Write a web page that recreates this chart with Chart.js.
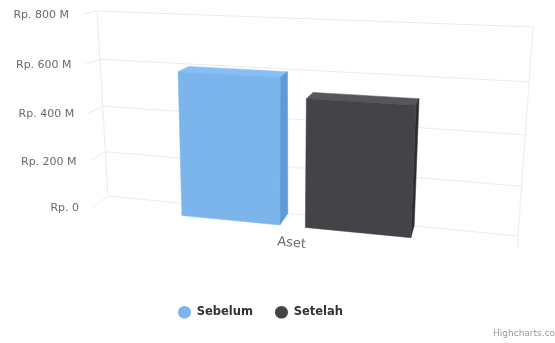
<!DOCTYPE html>
<html>
<head>
<meta charset="utf-8">
<title>Aset</title>
<script src="https://cdn.jsdelivr.net/npm/chart.js@4"></script>
<style>
    body { margin: 0; background: #fff; }
    #wrap { width: 555px; height: 343px; }
</style>
</head>
<body>
<div id="wrap"><canvas id="asetChart"></canvas></div>
<script>
const categories = ['Aset'];
const seriesNames = ['Sebelum', 'Setelah'];
const sebelumValues = [590];
const setelahValues = [513];
const tickValues = [0, 200, 400, 600, 800];
const seriesColors = ['#7cb5ec', '#434348'];
const topColors = ['#86bff5', '#56565b'];
const sideColors = ['#5f9ad6', '#2d2d31'];

// Wall corners on the canvas, clockwise from top-left
const backWall = [[97, 11], [533, 27], [518, 236], [108, 196]];
const frontWall = [[83, 14], [533, 31], [518, 248], [93, 207]];
const barDepth = { back: 0, front: 1 };

// Unit square -> quad perspective transform
function makeProjection(q) {
    const [[x0, y0], [x1, y1], [x2, y2], [x3, y3]] = q;
    const dx1 = x1 - x2, dx2 = x3 - x2, dx3 = x0 - x1 + x2 - x3;
    const dy1 = y1 - y2, dy2 = y3 - y2, dy3 = y0 - y1 + y2 - y3;
    const den = dx1 * dy2 - dx2 * dy1;
    const g = (dx3 * dy2 - dx2 * dy3) / den;
    const h = (dx1 * dy3 - dx3 * dy1) / den;
    const a = x1 - x0 + g * x1, b = x3 - x0 + h * x3;
    const d = y1 - y0 + g * y1, e = y3 - y0 + h * y3;
    return (u, v) => {
        const w = g * u + h * v + 1;
        return [(a * u + b * v + x0) / w, (d * u + e * v + y0) / w];
    };
}

const projectBack = makeProjection(backWall);
const projectFront = makeProjection(frontWall);

function project(u, v, depth) {
    const p = projectBack(u, v);
    const q = projectFront(u, v);
    return [p[0] + (q[0] - p[0]) * depth, p[1] + (q[1] - p[1]) * depth];
}

function line(ctx, a, b) {
    ctx.beginPath();
    ctx.moveTo(a[0], a[1]);
    ctx.lineTo(b[0], b[1]);
    ctx.stroke();
}

function fillFace(ctx, points, color) {
    ctx.fillStyle = color;
    ctx.strokeStyle = color;
    ctx.lineWidth = 0.5;
    ctx.beginPath();
    points.forEach((p, i) => (i ? ctx.lineTo(p[0], p[1]) : ctx.moveTo(p[0], p[1])));
    ctx.closePath();
    ctx.fill();
    ctx.stroke();
}

// Draws the walls, axis text and boxes instead of the flat bars
const box3d = {
    id: 'box3d',
    beforeDatasetsDraw(chart) {
        const { ctx, chartArea: area, scales } = chart;
        const toU = x => (x - area.left) / (area.right - area.left);
        const toV = y => (y - area.top) / (area.bottom - area.top);

        ctx.save();
        ctx.strokeStyle = '#ebebeb';
        ctx.lineWidth = 1;
        line(ctx, project(0, 0, 0), project(0, 1, 0));
        line(ctx, project(1, 0, 0), project(1, 1, 0));
        line(ctx, project(1, 1, 0), project(1, 1, 1));

        ctx.font = '11px "DejaVu Sans"';
        ctx.fillStyle = '#6a6a6a';
        ctx.textAlign = 'right';
        ctx.textBaseline = 'middle';
        scales.y.ticks.forEach(tick => {
            const v = toV(scales.y.getPixelForValue(tick.value));
            const end = project(0, v, 1);
            line(ctx, end, project(0, v, 0));
            line(ctx, project(0, v, 0), project(1, v, 0));
            ctx.fillText(tick.label, end[0] - 14, end[1] + 1);
        });

        // Category label follows the slope of the floor edge
        const labelAt = project(toU(scales.x.getPixelForValue(0)), 1, 1);
        const floorL = project(0, 1, 1);
        const floorR = project(1, 1, 1);
        ctx.save();
        ctx.translate(labelAt[0] - 1, labelAt[1] + 17);
        ctx.rotate(Math.atan2(floorR[1] - floorL[1], floorR[0] - floorL[0]));
        ctx.font = '13px "DejaVu Sans"';
        ctx.textAlign = 'center';
        ctx.fillStyle = '#6a6a6a';
        ctx.fillText(scales.x.getLabelForValue(0), 0, 0);
        ctx.restore();

        chart.data.datasets.forEach((ds, i) => {
            const bar = chart.getDatasetMeta(i).data[0];
            const u0 = toU(bar.x - bar.width / 2);
            const u1 = toU(bar.x + bar.width / 2);
            const vTop = toV(bar.y);
            const vBase = toV(bar.base);
            const { back, front } = barDepth;
            fillFace(ctx, [project(u0, vTop, back), project(u1, vTop, back), project(u1, vTop, front), project(u0, vTop, front)], topColors[i]);
            fillFace(ctx, [project(u1, vTop, front), project(u1, vTop, back), project(u1, vBase, back), project(u1, vBase, front)], sideColors[i]);
            fillFace(ctx, [project(u0, vTop, front), project(u1, vTop, front), project(u1, vBase, front), project(u0, vBase, front)], ds.backgroundColor);
        });

        ctx.font = '9px "DejaVu Sans"';
        ctx.fillStyle = '#999';
        ctx.textAlign = 'left';
        ctx.fillText('Highcharts.com', 493, 334);
        ctx.restore();
        return false;
    }
};

new Chart(document.getElementById('asetChart'), {
    type: 'bar',
    data: {
        labels: categories,
        datasets: [
            { label: seriesNames[0], data: sebelumValues, backgroundColor: seriesColors[0], borderWidth: 0 },
            { label: seriesNames[1], data: setelahValues, backgroundColor: seriesColors[1], borderWidth: 0 }
        ]
    },
    options: {
        responsive: true,
        maintainAspectRatio: false,
        animation: false,
        categoryPercentage: 0.6,
        barPercentage: 0.8,
        layout: { padding: { left: 20, right: 54, top: 11, bottom: 15 } },
        scales: {
            x: { display: false },
            y: {
                display: false,
                min: tickValues[0],
                max: tickValues[tickValues.length - 1],
                ticks: {
                    stepSize: 200,
                    callback: value => `Rp. ${value}${value ? ' M' : ''}`
                }
            }
        },
        plugins: {
            tooltip: { enabled: false },
            legend: {
                position: 'bottom',
                labels: {
                    usePointStyle: true,
                    pointStyleWidth: 13,
                    boxHeight: 9,
                    padding: 22,
                    color: '#333',
                    font: { family: '"DejaVu Sans"', size: 11.5, weight: 'bold' }
                }
            }
        }
    },
    plugins: [box3d]
});
</script>
</body>
</html>
